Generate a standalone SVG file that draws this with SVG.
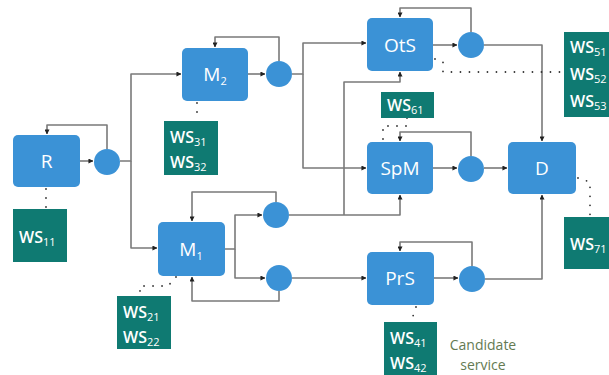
<svg xmlns="http://www.w3.org/2000/svg" width="609" height="375" viewBox="0 0 609 375">
<defs>
<marker id="ah" viewBox="0 0 6 6" refX="5.5" refY="3" markerWidth="5" markerHeight="5" orient="auto" markerUnits="userSpaceOnUse">
<path d="M0,0 L6,3 L0,6 z" fill="#222"/>
</marker>
<style>
.node rect{fill:#3b92d6;}
.node circle{fill:#3b92d6;}
.lbl{font-family:"Open Sans","Liberation Sans",sans-serif;font-size:19px;fill:#fff;text-anchor:middle;}
.ws rect{fill:#0f7a72;}
.wst{font-family:"Open Sans","Liberation Sans",sans-serif;font-size:16px;fill:#fff;font-weight:600;}
.sub{font-size:11px;font-weight:400;}
.conn path{fill:none;stroke:#7a7a7a;stroke-width:1.6;stroke-linejoin:round;}
.arr{marker-end:url(#ah);}
.dot path{fill:none;stroke:#333;stroke-width:1.8;stroke-linecap:round;stroke-dasharray:0 9;}
.cand{font-family:"Open Sans","Liberation Sans",sans-serif;font-size:14px;fill:#647a52;text-anchor:middle;}
</style>
</defs>
<rect width="609" height="375" fill="#fff"/>

<g id="connectors" class="conn">
<path class="arr" d="M80,161 H93"/>
<path class="arr" d="M107,149 V125 H47 V134"/>
<path class="arr" d="M120,161 H131 V74 H181"/>
<path class="arr" d="M131,161 V248 H157"/>
<path class="arr" d="M248,74 H265"/>
<path class="arr" d="M279,61 V37 H215 V47"/>
<path class="arr" d="M292,74 H303 V43 H366"/>
<path class="arr" d="M303,74 V168 H366"/>
<path class="arr" d="M433,45 H457"/>
<path class="arr" d="M471,32 V8 H400 V17"/>
<path class="arr" d="M484,45 H542 V141"/>
<path class="arr" d="M433,168 H457"/>
<path class="arr" d="M471,156 V132 H400 V141"/>
<path class="arr" d="M484,168 H507"/>
<path class="arr" d="M225,249 H235 V215 H262"/>
<path class="arr" d="M235,249 V278 H265"/>
<path class="arr" d="M276,202 V192 H192 V221"/>
<path class="arr" d="M279,291 V301 H192 V277"/>
<path class="arr" d="M289,215 H400 V195"/>
<path class="arr" d="M344,215 V82 H400 V72"/>
<path class="arr" d="M292,278 H366"/>
<path class="arr" d="M434,278 H458"/>
<path class="arr" d="M472,266 V242 H400 V251"/>
<path class="arr" d="M485,279 H542 V195"/>
</g>

<g id="dotted" class="dot">
<path d="M46,189 V209"/>
<path d="M197,103 V121"/>
<path d="M176,277 L168,286 H140 V296"/>
<path d="M435,59 L443,62 V72 H563"/>
<path d="M407,118 V126 H383 V142"/>
<path d="M578,178 L590,182 V217"/>
<path d="M416,307 L411,322"/>
</g>

<g id="R" class="node"><rect x="13" y="135" width="67" height="52" rx="5"/><text class="lbl" x="46.5" y="168">R</text></g>
<g id="Rc" class="node"><circle cx="107" cy="162" r="13"/></g>
<g id="M2" class="node"><rect x="182" y="48" width="66" height="53" rx="5"/><text class="lbl" x="215" y="81">M<tspan class="sub" font-size="13" dy="4">2</tspan></text></g>
<g id="M2c" class="node"><circle cx="279" cy="74" r="13"/></g>
<g id="M1" class="node"><rect x="158" y="222" width="67" height="54" rx="5"/><text class="lbl" x="191" y="256">M<tspan class="sub" font-size="13" dy="4">1</tspan></text></g>
<g id="M1c1" class="node"><circle cx="276" cy="215" r="13"/></g>
<g id="M1c2" class="node"><circle cx="279" cy="278" r="13"/></g>
<g id="OtS" class="node"><rect x="367" y="18" width="66" height="53" rx="5"/><text class="lbl" x="400" y="52">OtS</text></g>
<g id="OtSc" class="node"><circle cx="471" cy="45" r="13"/></g>
<g id="SpM" class="node"><rect x="367" y="142" width="66" height="52" rx="5"/><text class="lbl" x="400" y="175">SpM</text></g>
<g id="SpMc" class="node"><circle cx="471" cy="169" r="13"/></g>
<g id="PrS" class="node"><rect x="367" y="252" width="67" height="53" rx="5"/><text class="lbl" x="400" y="285">PrS</text></g>
<g id="PrSc" class="node"><circle cx="472" cy="279" r="13"/></g>
<g id="D" class="node"><rect x="508" y="142" width="68" height="52" rx="5"/><text class="lbl" x="542" y="175">D</text></g>

<g id="WS1" class="ws"><rect x="13" y="209" width="54" height="53"/><text class="wst" x="19" y="243">WS<tspan class="sub" dy="3">11</tspan></text></g>
<g id="WS3" class="ws"><rect x="164" y="121" width="54" height="54"/><text class="wst" x="170" y="143">WS<tspan class="sub" dy="3">31</tspan></text><text class="wst" x="170" y="168">WS<tspan class="sub" dy="3">32</tspan></text></g>
<g id="WS2" class="ws"><rect x="117" y="296" width="54" height="53"/><text class="wst" x="123" y="318">WS<tspan class="sub" dy="3">21</tspan></text><text class="wst" x="123" y="343">WS<tspan class="sub" dy="3">22</tspan></text></g>
<g id="WS6" class="ws"><rect x="381" y="92" width="53" height="26"/><text class="wst" x="387" y="111">WS<tspan class="sub" dy="3">61</tspan></text></g>
<g id="WS5" class="ws"><rect x="564" y="32" width="50" height="85"/><text class="wst" x="570" y="53">WS<tspan class="sub" dy="3">51</tspan></text><text class="wst" x="570" y="80">WS<tspan class="sub" dy="3">52</tspan></text><text class="wst" x="570" y="107">WS<tspan class="sub" dy="3">53</tspan></text></g>
<g id="WS7" class="ws"><rect x="564" y="217" width="50" height="52"/><text class="wst" x="570" y="250">WS<tspan class="sub" dy="3">71</tspan></text></g>
<g id="WS4" class="ws"><rect x="384" y="322" width="53" height="53"/><text class="wst" x="390" y="344">WS<tspan class="sub" dy="3">41</tspan></text><text class="wst" x="390" y="369">WS<tspan class="sub" dy="3">42</tspan></text></g>
<g id="candidate"><text class="cand" x="483" y="350">Candidate</text><text class="cand" x="483" y="370">service</text></g>
</svg>
